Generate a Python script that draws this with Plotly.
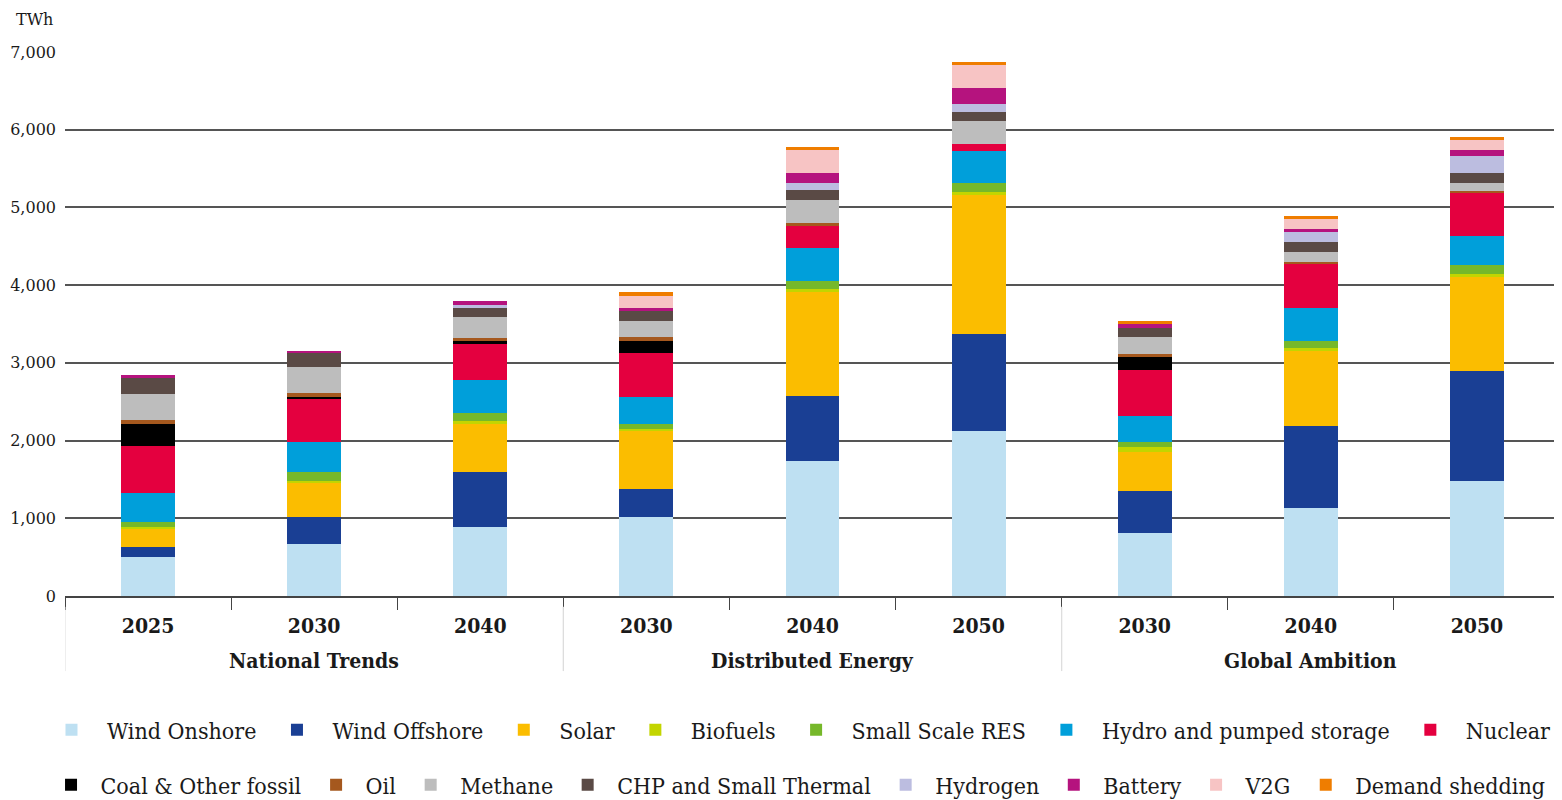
import plotly.graph_objects as go

scenarios = ["National Trends"] * 3 + ["Distributed Energy"] * 3 + ["Global Ambition"] * 3
years = ["2025", "2030", "2040", "2030", "2040", "2050", "2030", "2040", "2050"]
scenario_order = ["National Trends", "Distributed Energy", "Global Ambition"]

series_names = ["Wind Onshore", "Wind Offshore", "Solar", "Biofuels", "Small Scale RES",
                "Hydro and pumped storage", "Nuclear", "Coal & Other fossil", "Oil", "Methane",
                "CHP and Small Thermal", "Hydrogen", "Battery", "V2G", "Demand shedding"]

wind_onshore = [508, 675, 882, 1012, 1735, 2119, 805, 1128, 1481]
wind_offshore = [125, 344, 715, 370, 844, 1256, 547, 1063, 1420]
solar = [237, 443, 620, 740, 1336, 1781, 495, 960, 1205]
biofuels = [20, 20, 35, 30, 37, 37, 65, 43, 43]
small_scale_res = [60, 120, 108, 65, 103, 117, 65, 86, 108]
hydro = [378, 374, 418, 344, 422, 422, 344, 426, 379]
nuclear = [598, 559, 465, 560, 281, 80, 590, 560, 547]
coal = [284, 30, 34, 155, 0, 0, 164, 0, 0]
oil = [52, 43, 43, 52, 47, 0, 43, 34, 34]
methane = [335, 344, 267, 215, 295, 305, 215, 129, 95]
chp = [211, 172, 116, 120, 127, 117, 120, 120, 129]
hydrogen = [0, 0, 43, 0, 84, 94, 0, 138, 215]
battery = [34, 35, 47, 39, 136, 211, 43, 34, 77]
v2g = [0, 0, 0, 164, 295, 295, 0, 129, 129]
demand_shedding = [0, 0, 0, 43, 33, 33, 43, 39, 43]

series_values = [wind_onshore, wind_offshore, solar, biofuels, small_scale_res, hydro, nuclear,
                 coal, oil, methane, chp, hydrogen, battery, v2g, demand_shedding]

colors = ["#BEE0F2", "#1A3F94", "#FBBD00", "#C3D500", "#76B82A", "#009FDA", "#E4003F",
          "#000000", "#A5581E", "#BDBDBD", "#5A4A45", "#BCBDE0", "#B5137E", "#F7C4C4", "#EF7D00"]

y_ticks = [0, 1000, 2000, 3000, 4000, 5000, 6000, 7000]

slab = "DejaVu Serif Condensed"
txt = "#1a1a1a"

# unique category keys per bar, labelled with the year only
cat_keys = [f"{s}|{y}" for s, y in zip(scenarios, years)]

fig = go.Figure()
for i, (name, vals, col) in enumerate(zip(series_names, series_values, colors)):
    fig.add_trace(go.Bar(
        x=cat_keys, y=vals, name=name,
        marker=dict(color=col, line=dict(width=0)),
        legend="legend" if i < 7 else "legend2",
    ))

annotations = [dict(text="TWh", xref="paper", yref="paper", x=-0.034, y=1.060,
                    xanchor="left", yanchor="middle", showarrow=False,
                    font=dict(family="DejaVu Serif", size=16, color=txt))]
shapes = []
for s in scenario_order:
    idx = [i for i, sc in enumerate(scenarios) if sc == s]
    annotations.append(dict(text=f"<b>{s}</b>", xref="x", yref="paper",
                            x=sum(idx) / len(idx), y=-0.118, xanchor="center", yanchor="middle",
                            showarrow=False, font=dict(family=slab, size=21, color=txt)))
    for b in (min(idx) - 0.5, max(idx) + 0.5):
        shapes.append(dict(type="line", xref="x", yref="paper", x0=b, x1=b,
                           y0=-0.02, y1=-0.138, line=dict(color="#dddddd", width=1)))

fig.update_layout(
    barmode="stack",
    bargap=0.675,
    width=1554, height=792,
    margin=dict(l=57, r=2, t=44, b=204, autoexpand=False),
    plot_bgcolor="white", paper_bgcolor="white",
    font=dict(family=slab, size=18, color=txt),
    legend=dict(orientation="h", x=-0.0194, xanchor="left", y=-0.246, yanchor="middle",
                font=dict(family=slab, size=23, color=txt), traceorder="normal", itemwidth=61),
    legend2=dict(orientation="h", x=-0.0157, xanchor="left", y=-0.347, yanchor="middle",
                 font=dict(family=slab, size=23, color=txt), traceorder="normal", itemwidth=49),
    annotations=annotations,
    shapes=shapes,
)
fig.update_yaxes(range=[0, 7000], tickvals=y_ticks, tickformat=",d", automargin=False,
                 showgrid=True, gridcolor="#555", gridwidth=1.6,
                 zeroline=False, showline=False, ticks="", ticklabelstandoff=8,
                 tickfont=dict(family="DejaVu Serif", size=16, color=txt))
fig.update_xaxes(type="category", tickvals=cat_keys, ticktext=[f"<b>{y}</b>" for y in years],
                 automargin=False, range=[-0.5, len(cat_keys) - 0.5],
                 showline=True, linecolor="#444", linewidth=1.6,
                 ticks="outside", tickson="boundaries", ticklen=12, tickcolor="#444", tickwidth=1.2,
                 ticklabelstandoff=10,
                 tickfont=dict(family=slab, size=21, color=txt))

fig.write_html("out.html")
